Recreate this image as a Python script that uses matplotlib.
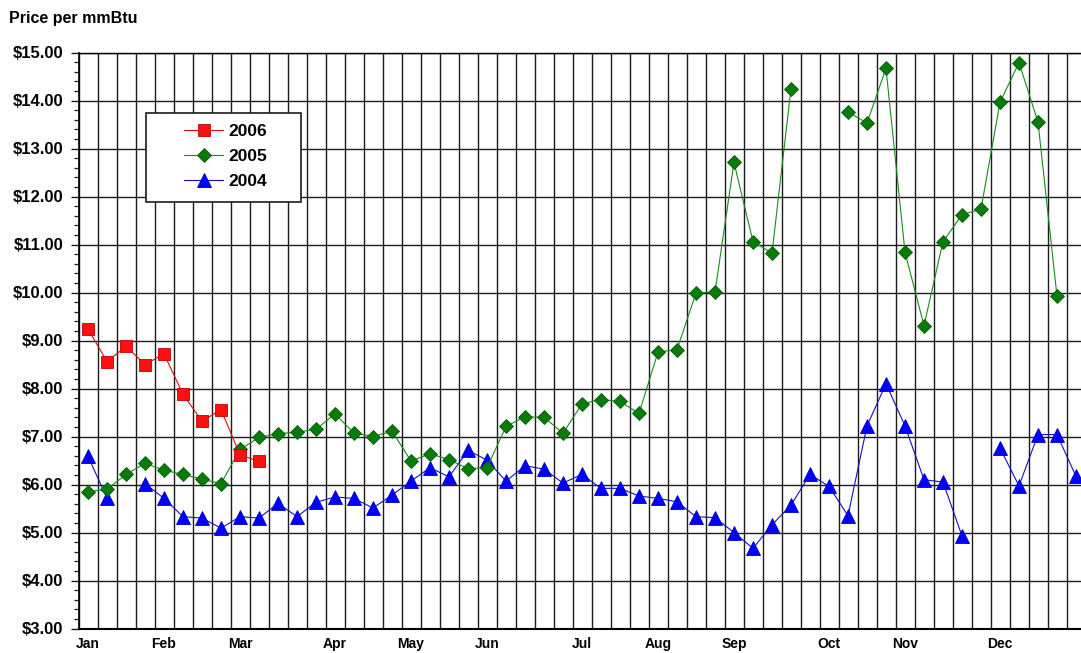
import numpy as np
import matplotlib
matplotlib.use('Agg')
import matplotlib.pyplot as plt
from matplotlib.patches import Rectangle
from matplotlib.ticker import MultipleLocator, FixedLocator

plt.rcParams['font.family'] = ['Liberation Sans', 'DejaVu Sans']
plt.rcParams['font.weight'] = 'bold'

nan = np.nan

# weekly prices, $/mmBtu (one value per week of the year)
prices_2006 = [9.24, 8.56, 8.88, 8.50, 8.72, 7.88, 7.32, 7.56, 6.62, 6.48]

prices_2005 = [5.85, 5.90, 6.21, 6.44, 6.30, 6.21, 6.11, 6.02, 6.73, 6.98,
               7.06, 7.09, 7.15, 7.47, 7.07, 7.00, 7.11, 6.49, 6.64, 6.52,
               6.33, 6.35, 7.21, 7.41, 7.40, 7.07, 7.68, 7.77, 7.73, 7.48,
               8.76, 8.81, 9.99, 10.01, 12.71, 11.06, 10.82, 14.25, nan, nan,
               13.76, 13.53, 14.67, 10.84, 9.31, 11.06, 11.62, 11.74, 13.96, 14.79,
               13.55, 9.92]

prices_2004 = [6.59, 5.71, nan, 6.02, 5.71, 5.33, 5.30, 5.09, 5.33, 5.30,
               5.61, 5.33, 5.63, 5.74, 5.71, 5.51, 5.78, 6.07, 6.35, 6.16,
               6.71, 6.51, 6.07, 6.39, 6.32, 6.03, 6.21, 5.92, 5.92, 5.76,
               5.71, 5.64, 5.33, 5.31, 5.00, 4.67, 5.16, 5.57, 6.21, 5.96,
               5.35, 7.22, 8.10, 7.22, 6.10, 6.05, 4.93, nan, 6.76, 5.97,
               7.04, 7.04, 6.17]

month_labels = ['Jan', 'Feb', 'Mar', 'Apr', 'May', 'Jun',
                'Jul', 'Aug', 'Sep', 'Oct', 'Nov', 'Dec']
month_weeks = [0, 4, 8, 13, 17, 21, 26, 30, 34, 39, 43, 48]

W, H = 1081, 653
fig = plt.figure(figsize=(W / 100, H / 100), dpi=100)
ax = fig.add_axes([78.5 / W, 1 - 628.5 / H, (W - 78.5) / W, 576 / H])

grid_kw = dict(color='#1c1c1c', linewidth=1.0)

ax.plot(range(len(prices_2006)), prices_2006, color='#d01010', linewidth=0.8,
        marker='s', markersize=8.5, markerfacecolor='#ff1010',
        markeredgecolor='#c00000', markeredgewidth=0.6, label='2006', zorder=3)
ax.plot(range(len(prices_2005)), prices_2005, color='#1a8a1a', linewidth=0.8,
        marker='D', markersize=7.5, markerfacecolor='#0a7a0a',
        markeredgecolor='#006000', markeredgewidth=0.6, label='2005', zorder=2.5)
ax.plot(range(len(prices_2004)), prices_2004, color='#1010c0', linewidth=0.8,
        marker='^', markersize=10, markerfacecolor='#0000ff',
        markeredgecolor='#0000c0', markeredgewidth=0.6, label='2004', zorder=2)

ax.set_xlim(-0.5, (W - 78.5) / 19 - 0.5)
ax.set_ylim(3, 15)

# vertical grid between weeks
ax.xaxis.set_major_locator(FixedLocator(month_weeks))
ax.set_xticklabels(month_labels)
ax.xaxis.set_minor_locator(FixedLocator(np.arange(-0.5, 54, 1)))
ax.grid(True, which='minor', axis='x', **grid_kw)
ax.tick_params(axis='x', which='both', length=0, pad=6, labelsize=10)

ax.yaxis.set_major_locator(MultipleLocator(1))
ax.yaxis.set_minor_locator(MultipleLocator(0.2))
ax.yaxis.set_major_formatter(matplotlib.ticker.FuncFormatter(lambda v, p: f'${v:.2f}'))
ax.grid(True, which='major', axis='y', **grid_kw)
ax.tick_params(axis='y', which='major', length=6, width=1.0, pad=5,
               labelsize=12, color='#1c1c1c')
ax.tick_params(axis='y', which='minor', length=3.8, width=0.9, color='#1c1c1c')
ax.set_axisbelow(True)

ax.spines['right'].set_visible(False)
ax.spines['left'].set_linewidth(1.2)
ax.spines['bottom'].set_linewidth(1.5)
ax.spines['top'].set_linewidth(1.0)

fig.text(9 / W, 1 - 18 / H, 'Price per mmBtu', fontsize=11.5, fontweight='bold',
         ha='left', va='center')

# legend box
box = Rectangle((146 / W, 1 - 201.7 / H), 154.7 / W, 89 / H, transform=fig.transFigure,
                facecolor='white', edgecolor='#1c1c1c', linewidth=1.2, zorder=4)
ax.add_patch(box)
box.set_clip_on(False)
leg = ax.legend(loc='center', bbox_to_anchor=(225.5 / W, 1 - 156.4 / H),
                bbox_transform=fig.transFigure, frameon=False,
                fontsize=12.5, handlelength=2.25, handletextpad=0.3,
                labelspacing=0.55, borderpad=0)
leg.set_zorder(5)

plt.savefig('out.png', dpi=100)
plt.close()
